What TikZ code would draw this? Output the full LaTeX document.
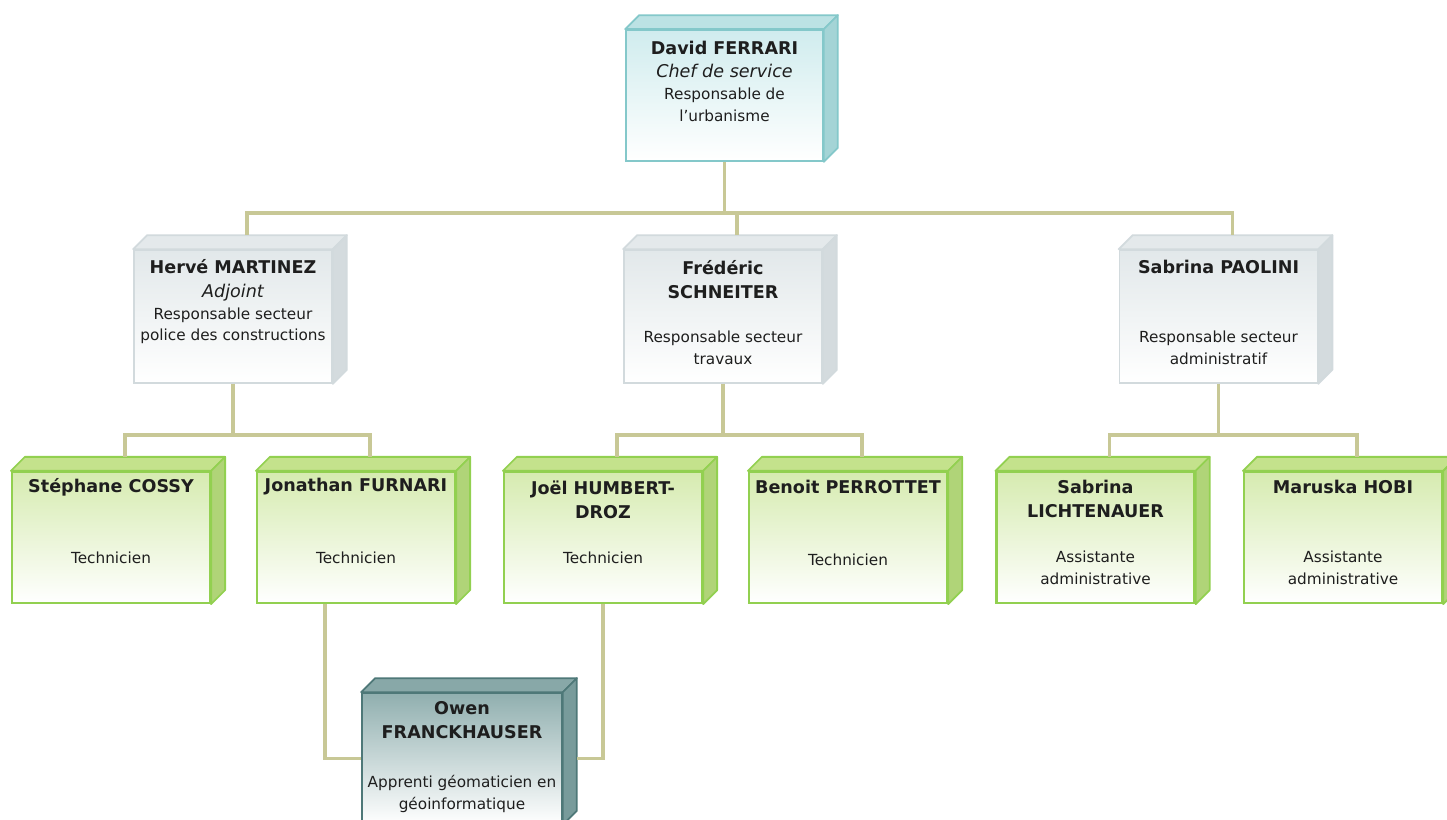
\documentclass[tikz,border=0pt]{standalone}
\usepackage{fontspec}
\setmainfont{DejaVu Sans}

\definecolor{linkc}{HTML}{C8C896}
\definecolor{txt}{HTML}{1E1E1E}
\definecolor{chiefline}{HTML}{84C8CA}
\definecolor{chieftop}{HTML}{D0ECEE}
\definecolor{chiefface}{HTML}{BCE2E4}
\definecolor{chiefside}{HTML}{A4D4D6}
\definecolor{headline}{HTML}{D2DADD}
\definecolor{headtop}{HTML}{E2E8EA}
\definecolor{headface}{HTML}{E4E9EB}
\definecolor{headside}{HTML}{D4DBDE}
\definecolor{techline}{HTML}{92D050}
\definecolor{techtop}{HTML}{D6EBB0}
\definecolor{techface}{HTML}{C4E28C}
\definecolor{techside}{HTML}{B0D478}
\definecolor{apline}{HTML}{4E7878}
\definecolor{aptop}{HTML}{90AFAF}
\definecolor{apface}{HTML}{88A8A8}
\definecolor{apside}{HTML}{789B9B}

\tikzset{
  conn/.style={draw=linkc, line width=2.2pt},
  cube/.style={rectangle, line width=1pt, bottom color=white},
  chief/.style={cube, draw=chiefline, top color=chieftop, minimum width=3.94cm, minimum height=2.62cm},
  head/.style={cube, draw=headline, top color=headtop, minimum width=3.96cm, minimum height=2.66cm},
  tech/.style={cube, draw=techline, line width=1.3pt, top color=techtop, minimum width=3.96cm, minimum height=2.62cm},
  appr/.style={cube, draw=apline, top color=aptop, minimum width=4cm, minimum height=2.62cm},
  who/.style={font=\bfseries\fontsize{10}{13.6}\selectfont, align=center, text=txt},
  role/.style={font=\fontsize{8.7}{12.4}\selectfont, align=center, text=txt}
}

\begin{document}
\begin{tikzpicture}[x=0.02cm, y=-0.02cm]
    \useasboundingbox (0, 0) rectangle (1447, 820);
    \fill[white] (0, 0) rectangle (1447, 820);
    \clip (0, 0) rectangle (1447, 820);

    \def\d{0.28cm}

    % boxes
    \node[chief] (ferrari) at (724.5, 95.5) {};
    \node[head] (martinez) at (233, 316.5) {};
    \node[head] (schneiter) at (723, 316.5) {};
    \node[head] (paolini) at (1218.5, 316.5) {};
    \node[tech] (cossy) at (111, 537.5) {};
    \node[tech] (furnari) at (356, 537.5) {};
    \node[tech] (humbert) at (603, 537.5) {};
    \node[tech] (perrottet) at (848, 537.5) {};
    \node[tech] (lichtenauer) at (1095.5, 537.5) {};
    \node[tech] (hobi) at (1343, 537.5) {};
    \node[appr] (owen) at (462, 758.5) {};

    \foreach \n/\lc/\tc/\sc in {ferrari/chiefline/chiefface/chiefside,
        martinez/headline/headface/headside, schneiter/headline/headface/headside,
        paolini/headline/headface/headside,
        cossy/techline/techface/techside, furnari/techline/techface/techside,
        humbert/techline/techface/techside, perrottet/techline/techface/techside,
        lichtenauer/techline/techface/techside, hobi/techline/techface/techside,
        owen/apline/apface/apside} {
      \filldraw[draw=\lc, fill=\tc, line width=1pt, line join=round] (\n.north west)
        -- ([xshift=\d, yshift=\d]\n.north west) -- ([xshift=\d, yshift=\d]\n.north east)
        -- (\n.north east) -- cycle;
      \filldraw[draw=\lc, fill=\sc, line width=1pt, line join=round] (\n.north east)
        -- ([xshift=\d, yshift=\d]\n.north east) -- ([xshift=\d, yshift=\d]\n.south east)
        -- (\n.south east) -- cycle;
    }

    % texts
    \node[role] (ferrari-t) at (724.5, 81) {{\bfseries\fontsize{10}{13.6}\selectfont David FERRARI}\\[1pt]
      {\itshape\fontsize{10}{13.6}\selectfont Chef de service}\\ Responsable de\\ l'urbanisme};
    \node[role] (martinez-t) at (233, 302) {{\bfseries\fontsize{10}{13.6}\selectfont Hervé MARTINEZ}\\[1pt]
      {\itshape\fontsize{10}{13.6}\selectfont Adjoint}\\ Responsable secteur\\ police des constructions};
    \node[who] (schneiter-n) at (723, 280) {Frédéric\\ SCHNEITER};
    \node[role] (schneiter-r) at (723, 348) {Responsable secteur\\ travaux};
    \node[who] (paolini-n) at (1218.5, 267) {Sabrina PAOLINI};
    \node[role] (paolini-r) at (1218.5, 348) {Responsable secteur\\ administratif};

    \node[who] (cossy-n) at (111, 487) {Stéphane COSSY};
    \node[role] (cossy-r) at (111, 558) {Technicien};
    \node[who] (furnari-n) at (356, 487) {Jonathan FURNARI};
    \node[role] (furnari-r) at (356, 558) {Technicien};
    \node[who] (humbert-n) at (603, 500) {Joël HUMBERT-\\ DROZ};
    \node[role] (humbert-r) at (603, 558) {Technicien};
    \node[who] (perrottet-n) at (848, 487) {Benoit PERROTTET};
    \node[role] (perrottet-r) at (848, 560) {Technicien};
    \node[who] (lichtenauer-n) at (1095.5, 499) {Sabrina\\ LICHTENAUER};
    \node[role] (lichtenauer-r) at (1095.5, 568) {Assistante\\ administrative};
    \node[who] (hobi-n) at (1343, 487) {Maruska HOBI};
    \node[role] (hobi-r) at (1343, 568) {Assistante\\ administrative};
    \node[who] (owen-n) at (462, 720) {Owen\\ FRANCKHAUSER};
    \node[role] (owen-r) at (462, 794) {Apprenti géomaticien en\\ géoinformatique};

    % links
    \coordinate (bus1) at (0, 213);
    \coordinate (bus2) at (0, 435);
    \draw[conn] (ferrari.south) -- (ferrari.south |- bus1);
    \draw[conn] ([xshift=\d, yshift=\d]martinez.north) |- ([xshift=\d]paolini.north |- bus1)
      -- ([xshift=\d, yshift=\d]paolini.north);
    \draw[conn] ([xshift=\d, yshift=\d]schneiter.north) -- ([xshift=\d]schneiter.north |- bus1);

    \draw[conn] (martinez.south) -- (martinez.south |- bus2);
    \draw[conn] ([xshift=\d, yshift=\d]cossy.north) |- ([xshift=\d]furnari.north |- bus2)
      -- ([xshift=\d, yshift=\d]furnari.north);
    \draw[conn] (schneiter.south) -- (schneiter.south |- bus2);
    \draw[conn] ([xshift=\d, yshift=\d]humbert.north) |- ([xshift=\d]perrottet.north |- bus2)
      -- ([xshift=\d, yshift=\d]perrottet.north);
    \draw[conn] (paolini.south) -- (paolini.south |- bus2);
    \draw[conn] ([xshift=\d, yshift=\d]lichtenauer.north) |- ([xshift=\d]hobi.north |- bus2)
      -- ([xshift=\d, yshift=\d]hobi.north);

    \draw[conn] ([xshift=-0.62cm]furnari.south) |- (owen.west);
    \draw[conn] (humbert.south) |- ([xshift=\d]owen.east);
\end{tikzpicture}
\end{document}
